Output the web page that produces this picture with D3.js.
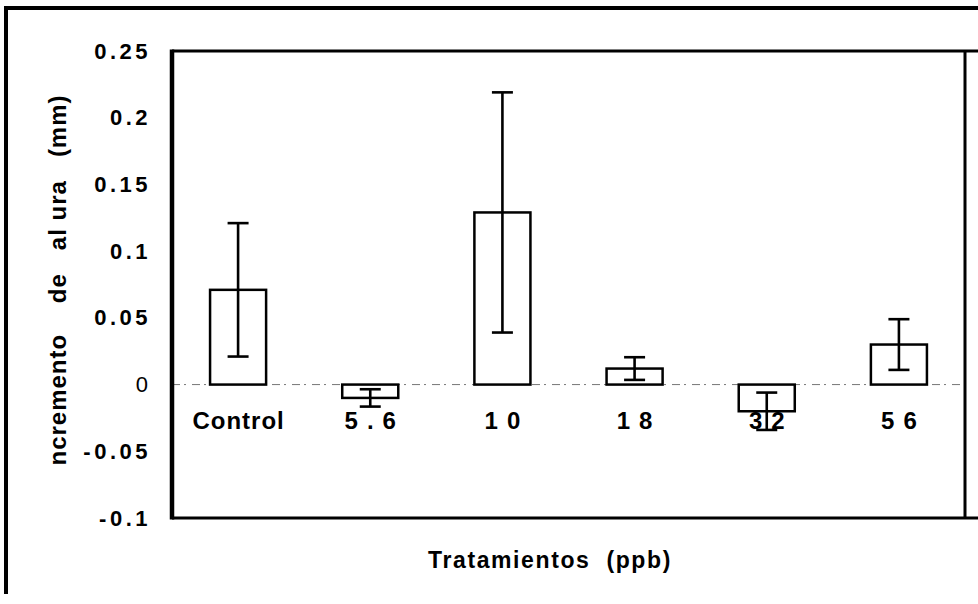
<!DOCTYPE html>
<html>
<head>
<meta charset="utf-8">
<script src="https://cdn.jsdelivr.net/npm/d3@7"></script>
<style>
  html, body { margin: 0; padding: 0; background: #fff; }
  svg { display: block; }
  text { font-family: "Liberation Sans", Arial, sans-serif; fill: #000; }
</style>
</head>
<body>
<svg id="chart" width="978" height="604"></svg>
<script>
// Treatment groups (ppb) and mean height increment (mm) with error
const categories = ["Control", "5.6", "10", "18", "32", "56"];
const means      = [0.071, -0.010, 0.129, 0.012, -0.020, 0.030];
const errors     = [0.050, 0.0065, 0.090, 0.0085, 0.014, 0.019];
const yTicks     = [-0.1, -0.05, 0, 0.05, 0.1, 0.15, 0.2, 0.25];
const yTitle     = "ncremento    de   al ura   (mm)";
const xTitle     = "Tratamientos  (ppb)";

const svg = d3.select("#chart");

const plot = { left: 172, right: 965, top: 51, bottom: 518 };

const x = d3.scaleBand()
  .domain(categories)
  .range([plot.left, plot.right])
  .paddingInner(0.576)
  .paddingOuter(0.288);

const y = d3.scaleLinear()
  .domain([-0.1, 0.25])
  .range([plot.bottom, plot.top]);

const rows = categories.map((c, i) => ({ cat: c, mean: means[i], err: errors[i] }));

// outer frame (top and left edges)
svg.append("path")
  .attr("d", `M6,594 L6,8 L978,8`)
  .attr("fill", "none")
  .attr("stroke", "#000")
  .attr("stroke-width", 4);

// zero reference line
svg.append("line")
  .attr("x1", plot.left).attr("x2", plot.right)
  .attr("y1", y(0)).attr("y2", y(0))
  .attr("stroke", "#777")
  .attr("stroke-width", 1)
  .attr("stroke-dasharray", "8 4 2 6");

// bars
svg.append("g").selectAll("rect")
  .data(rows)
  .join("rect")
  .attr("x", d => x(d.cat))
  .attr("width", x.bandwidth())
  .attr("y", d => y(Math.max(0, d.mean)))
  .attr("height", d => Math.abs(y(d.mean) - y(0)))
  .attr("fill", "#fff")
  .attr("stroke", "#000")
  .attr("stroke-width", 2.5);

// error bars
const capW = 21;
const eb = svg.append("g")
  .attr("stroke", "#000")
  .attr("stroke-width", 2.6)
  .selectAll("g")
  .data(rows)
  .join("g")
  .attr("transform", d => `translate(${x(d.cat) + x.bandwidth() / 2},0)`);

eb.append("line")
  .attr("y1", d => y(d.mean + d.err))
  .attr("y2", d => y(d.mean - d.err));
eb.append("line")
  .attr("x1", -capW / 2).attr("x2", capW / 2)
  .attr("y1", d => y(d.mean + d.err)).attr("y2", d => y(d.mean + d.err));
eb.append("line")
  .attr("x1", -capW / 2).attr("x2", capW / 2)
  .attr("y1", d => y(d.mean - d.err)).attr("y2", d => y(d.mean - d.err));

// plot frame
const frame = svg.append("g").attr("fill", "none").attr("stroke", "#000");
frame.append("line")
  .attr("x1", plot.left).attr("x2", plot.left)
  .attr("y1", plot.top - 1.5).attr("y2", plot.bottom + 1.5)
  .attr("stroke-width", 4.5);
frame.append("line")
  .attr("x1", plot.left).attr("x2", 978)
  .attr("y1", plot.top).attr("y2", plot.top)
  .attr("stroke-width", 3);
frame.append("line")
  .attr("x1", plot.left).attr("x2", 978)
  .attr("y1", plot.bottom).attr("y2", plot.bottom)
  .attr("stroke-width", 3);
frame.append("line")
  .attr("x1", plot.right).attr("x2", plot.right)
  .attr("y1", plot.top).attr("y2", plot.bottom)
  .attr("stroke-width", 3);

// y axis labels
const yAxis = svg.append("g")
  .attr("transform", `translate(${plot.left},0)`)
  .call(d3.axisLeft(y).tickValues(yTicks).tickSize(0).tickPadding(21).tickFormat(d => String(d)));
yAxis.select(".domain").remove();
yAxis.selectAll("text")
  .attr("font-family", "Liberation Sans, Arial, sans-serif")
  .attr("font-size", 22)
  .attr("font-weight", d => d === 0 ? "normal" : "bold")
  .attr("letter-spacing", d => d === 0 ? 0 : 3.5)
  .attr("dx", d => d === 0 ? -3 : 0)
  .attr("fill", "#000");

// x axis category labels
const xAxis = svg.append("g")
  .attr("transform", `translate(0,412)`)
  .call(d3.axisBottom(x).tickSize(0).tickPadding(0));
xAxis.select(".domain").remove();
xAxis.selectAll("text")
  .attr("font-family", "Liberation Sans, Arial, sans-serif")
  .attr("font-size", 24)
  .attr("font-weight", "bold")
  .attr("letter-spacing", d => d === "Control" ? 1 : 9)
  .attr("dx", d => d === "Control" ? 0.5 : 4.5)
  .attr("fill", "#000");

// axis titles
svg.append("text")
  .attr("transform", "translate(66,280) rotate(-90)")
  .attr("text-anchor", "middle")
  .attr("font-size", 24)
  .attr("font-weight", "bold")
  .attr("letter-spacing", 1)
  .attr("xml:space", "preserve")
  .style("white-space", "pre")
  .text(yTitle);

svg.append("text")
  .attr("x", 550)
  .attr("y", 568)
  .attr("text-anchor", "middle")
  .attr("font-size", 23)
  .attr("font-weight", "bold")
  .attr("letter-spacing", 1.6)
  .attr("xml:space", "preserve")
  .style("white-space", "pre")
  .text(xTitle);
</script>
</body>
</html>
